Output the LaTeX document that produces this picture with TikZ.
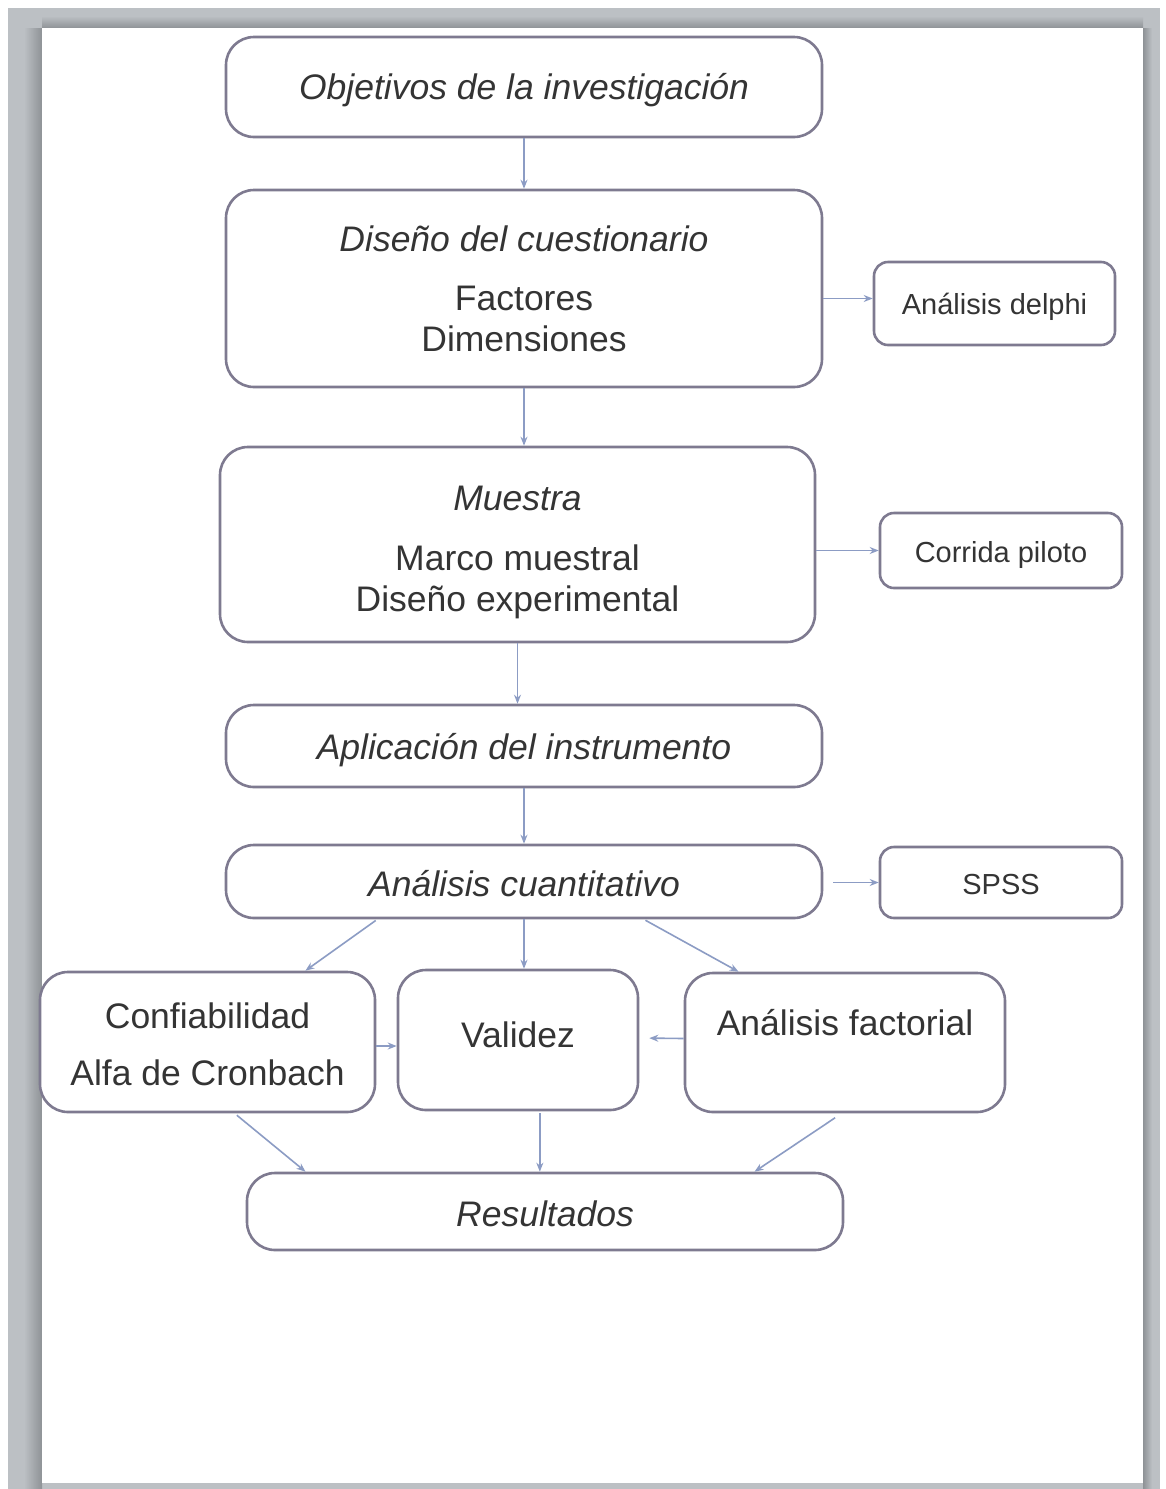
\documentclass[tikz,border=0pt]{standalone}
\usepackage{fontspec}
\setmainfont{Liberation Sans}
\usetikzlibrary{arrows.meta,calc}
\definecolor{pagegray}{HTML}{BCC0C4}
\definecolor{pagedark}{HTML}{8E9296}
\definecolor{boxline}{HTML}{7E7A90}
\definecolor{arrowline}{HTML}{8C9CC4}
\definecolor{ink}{HTML}{343434}

% centred lines of a box, moved down by #1 inside it
\newcommand\boxlines[2]{\raisebox{-#1}[\height][\depth]{%
  \begin{tabular}{@{}c@{}}#2\end{tabular}}}

\begin{document}
\begin{tikzpicture}[x=1pt,y=-1pt,
  box/.style={draw=boxline,line width=2.6pt,rounded corners=28pt,fill=white,
    text=ink,inner sep=0pt,font=\fontsize{35.5}{41}\selectfont},
  sidebox/.style={box,rounded corners=14pt,font=\fontsize{29}{34}\selectfont},
  link/.style={draw=arrowline,line width=1.6pt,-{Stealth[length=9pt,width=7pt]}}]

% page and its frame
\useasboundingbox (0,0) rectangle (1165,1489);
\fill[white] (0,0) rectangle (1165,1489);
\fill[pagegray] (8,8) rectangle (1160,1489);
\shade[left color=pagegray,right color=pagedark] (24,28) rectangle (42,1489);
\shade[top color=pagegray,bottom color=pagedark] (42,16) rectangle (1143,28);
\shade[left color=pagedark,right color=pagegray] (1143,28) rectangle (1152,1489);
\fill[white] (42,28) rectangle (1143,1483);

% main chain
\node[box,minimum width=596pt,minimum height=100pt] (obj) at (524,87)
  {\boxlines{4pt}{\itshape Objetivos de la investigación}};
\node[box,minimum width=596pt,minimum height=197pt] (dis) at (524,288.5)
  {\boxlines{5pt}{\itshape Diseño del cuestionario\\[18pt]Factores\\Dimensiones}};
\node[box,minimum width=595pt,minimum height=195pt] (mue) at (517.5,544.5)
  {\boxlines{8pt}{\itshape Muestra\\[19pt]Marco muestral\\Diseño experimental}};
\node[box,minimum width=596pt,minimum height=82pt] (apl) at (524,746)
  {\boxlines{5pt}{\itshape Aplicación del instrumento}};
\node[box,minimum width=596pt,minimum height=73pt] (ana) at (524,881.5)
  {\boxlines{7pt}{\itshape Análisis cuantitativo}};

% side boxes
\node[sidebox,minimum width=241pt,minimum height=83pt] (del) at (994.5,303.5)
  {\boxlines{4pt}{Análisis delphi}};
\node[sidebox,minimum width=242pt,minimum height=75pt] (cor) at (1001,550.5)
  {\boxlines{5pt}{Corrida piloto}};
\node[sidebox,minimum width=242pt,minimum height=71pt] (sps) at (1001,882.5)
  {\boxlines{5pt}{SPSS}};

% analysis row
\node[box,minimum width=335pt,minimum height=140pt] (con) at (207.5,1042)
  {\boxlines{7pt}{Confiabilidad\\[16pt]Alfa de Cronbach}};
\node[box,minimum width=240pt,minimum height=140pt] (val) at (518,1040)
  {\boxlines{-1pt}{Validez}};
\node[box,minimum width=320pt,minimum height=139pt] (fac) at (845,1042.5)
  {\boxlines{5pt}{Análisis factorial\\\mbox{}}};

% results
\node[box,minimum width=596pt,minimum height=77pt] (res) at (545,1211.5)
  {\boxlines{7pt}{\itshape Resultados}};

% connectors of the main chain
\draw[link] (obj.south) -- (dis.north);
\draw[link] (dis.south) -- (dis.south |- mue.north);
\draw[link] (mue.south) -- (mue.south |- apl.north);
\draw[link] (apl.south) -- (ana.north);

% connectors to the side boxes
\draw[link] ($(dis.east |- del.west)+(0,-5)$) -- ($(del.west)+(0,-5)$);
\draw[link] (mue.east |- cor.west) -- (cor.west);
\draw[link,shorten <=10pt] (ana.east |- sps.west) -- (sps.west);

% branching of the quantitative analysis
\draw[link,shorten <=2pt] ($(ana.south west)!0.255!(ana.south east)$)
  -- ($(con.north west)!0.79!(con.north east)$);
\draw[link] (ana.south) -- (ana.south |- val.north);
\draw[link,shorten <=2pt] ($(ana.south west)!0.70!(ana.south east)$)
  -- ($(fac.north west)!0.17!(fac.north east)$);

% links between the analyses
\draw[link] ($(con.east)+(0,4)$) -- ($(val.west)+(0,6)$);
\draw[link,shorten >=10pt] ($(fac.west)+(0,-4)$) -- ($(val.east)+(0,-2)$);

% towards the results
\draw[link,shorten <=3pt] ($(con.south west)!0.58!(con.south east)$)
  -- ($(res.north west)!0.10!(res.north east)$);
\coordinate (vs) at ($(val.south west)!0.59!(val.south east)$);
\draw[link,shorten <=2pt] (vs) -- (vs |- res.north);
\draw[link,shorten <=8pt] ($(fac.south west)!0.49!(fac.south east)$)
  -- ($(res.north west)!0.85!(res.north east)$);
\end{tikzpicture}
\end{document}
